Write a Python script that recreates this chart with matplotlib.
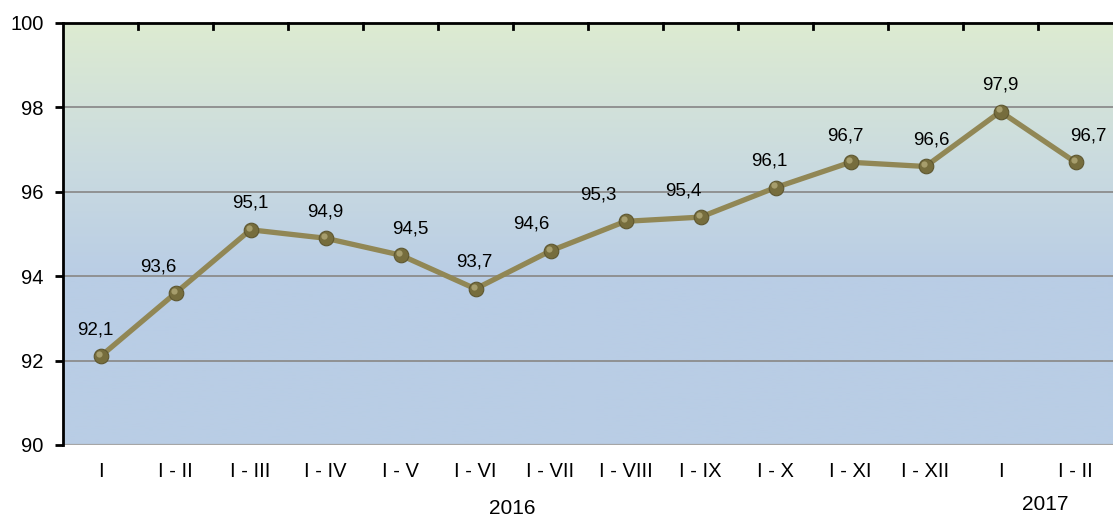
import numpy as np
import matplotlib
matplotlib.use("Agg")
import matplotlib.pyplot as plt
from matplotlib.colors import LinearSegmentedColormap
from matplotlib.transforms import offset_copy

categories = ["I", "I - II", "I - III", "I - IV", "I - V", "I - VI", "I - VII",
              "I - VIII", "I - IX", "I - X", "I - XI", "I - XII", "I", "I - II"]
values = [92.1, 93.6, 95.1, 94.9, 94.5, 93.7, 94.6, 95.3, 95.4, 96.1, 96.7, 96.6, 97.9, 96.7]
value_labels = ["92,1", "93,6", "95,1", "94,9", "94,5", "93,7", "94,6", "95,3",
                "95,4", "96,1", "96,7", "96,6", "97,9", "96,7"]
years = ["2016", "2017"]
y_ticks = [90, 92, 94, 96, 98, 100]

# label horizontal offsets (pixels) - style only
label_dx = [-5, -17, 0, 0, 10, -1, -19, -27, -17, -6, -5, 6, 0, 13]

plt.rcParams['font.family'] = ['Liberation Sans', 'DejaVu Sans']

W, H = 1113, 517
fig = plt.figure(figsize=(W / 100, H / 100), dpi=100)
left, right, top, bottom = 63, 1113, 23, 445
ax = fig.add_axes([left / W, 1 - bottom / H, (right - left) / W, (bottom - top) / H])

n = len(categories)
x = np.arange(n)
ax.set_xlim(-0.5, n - 0.5)
ax.set_ylim(90, 100)

# gradient background
cmap = LinearSegmentedColormap.from_list(
    "bg", [(0.0, "#DDEBD1"), (0.35, "#C9DAE0"), (0.6, "#B9CDE5"), (1.0, "#B9CDE5")])
grad = np.linspace(0, 1, 256).reshape(-1, 1)
ax.imshow(grad, cmap=cmap, aspect="auto", extent=[0, 1, 0, 1], origin="upper",
          transform=ax.transAxes, zorder=0)

# gridlines
for yv in y_ticks[1:-1]:
    ax.axhline(yv, color="#8C8C8C", lw=1.3, zorder=1)
ax.axhline(90, color="#A6A6A6", lw=1.6, zorder=1)

# line & markers
ax.plot(x, values, color="#918755", lw=3.8, zorder=3, solid_capstyle="round")
ax.plot(x, values, ls="none", marker="o", ms=10.5, mfc="#766D3D", mec="#5E5730",
        mew=0.8, zorder=4)
hl = offset_copy(ax.transData, fig=fig, x=-1.2, y=1.6, units="points")
ax.plot(x, values, ls="none", marker="o", ms=4.5, mfc="#B3AA78", mec="none",
        alpha=0.8, zorder=5, transform=hl)

# data labels
for xi, v, lab, dx in zip(x, values, value_labels, label_dx):
    ax.annotate(lab, (xi, v), xytext=(dx * 0.72, 19), textcoords="offset points",
                ha="center", va="center", fontsize=13.5, color="black", zorder=6)

# spines
for s in ["right", "bottom"]:
    ax.spines[s].set_visible(False)
ax.spines["left"].set_linewidth(2)
ax.spines["top"].set_linewidth(2)
ax.spines["left"].set_zorder(7)
ax.spines["top"].set_zorder(7)

# y axis
ax.set_yticks(y_ticks)
ax.set_yticklabels([str(v) for v in y_ticks], fontsize=14.5)
ax.tick_params(axis="y", direction="out", length=6, width=2, pad=8)

# x axis: labels at category centers, no bottom ticks
ax.set_xticks(x)
ax.set_xticklabels(categories, fontsize=14.5)
ax.tick_params(axis="x", length=0, pad=12)

# top-edge ticks at category boundaries, pointing inward
for b in np.arange(0.5, n - 0.5, 1.0):
    ax.plot([b, b], [100, 99.85], color="black", lw=2, zorder=7, clip_on=False)

# year labels
fig.text(512 / W, 1 - 508 / H, years[0], ha="center", va="center", fontsize=15)
fig.text(1045 / W, 1 - 505 / H, years[1], ha="center", va="center", fontsize=15)

fig.savefig("out.png", dpi=100)
